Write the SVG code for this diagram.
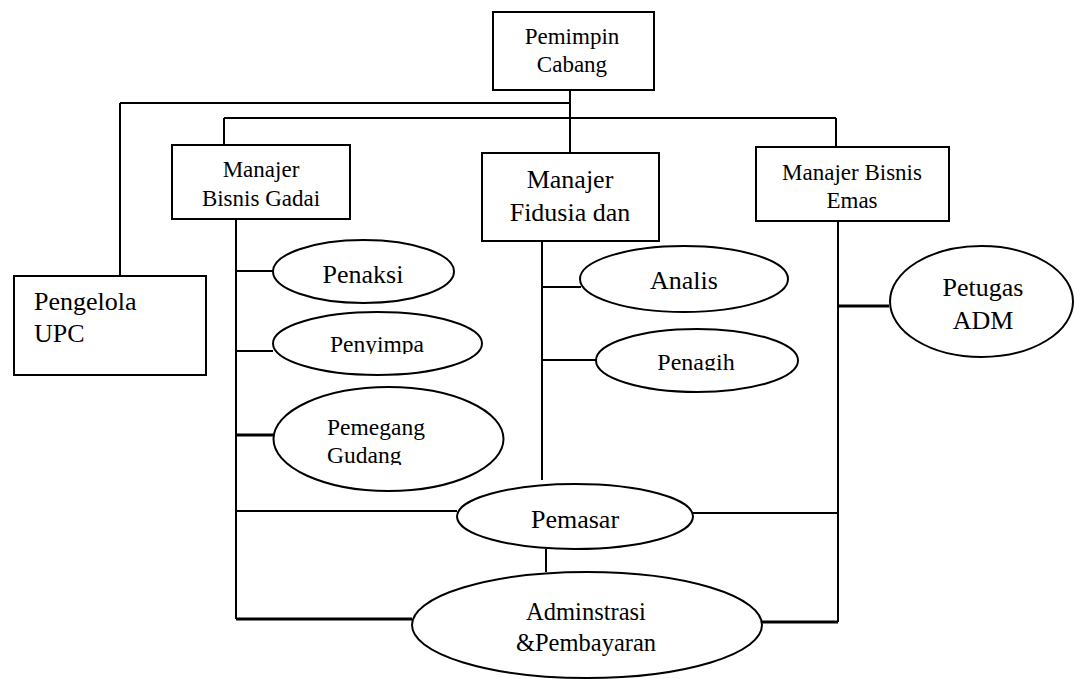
<svg xmlns="http://www.w3.org/2000/svg" width="1074" height="679" viewBox="0 0 1074 679">
<style>
.box{fill:#fff;stroke:#000;stroke-width:2}
.ell{fill:#fff;stroke:#000;stroke-width:2}
.ln{stroke:#000;stroke-width:2;fill:none}
.thick{stroke-width:3}
.c{text-anchor:middle}
</style>
<defs>
<clipPath id="clipPenyimpa"><rect x="260" y="300" width="240" height="54"/></clipPath>
<clipPath id="clipPenagih"><rect x="590" y="320" width="220" height="50.5"/></clipPath>
<clipPath id="clipGudang"><rect x="260" y="380" width="260" height="85"/></clipPath>
</defs>
<rect width="1074" height="679" fill="#fff"/>
<g id="connectors">
<path class="ln" d="M570,90 V153"/>
<path class="ln" d="M120,103 H570 M120,103 V276"/>
<path class="ln" d="M224,118 H836 M224,118 V145 M836,118 V147"/>
<path class="ln" d="M236,219 V619"/>
<path class="ln" d="M236,271 H273"/>
<path class="ln" d="M236,351 H273"/>
<path class="ln thick" d="M236,435 H273"/>
<path class="ln" d="M236,511 H457"/>
<path class="ln thick" d="M236,619 H412"/>
<path class="ln" d="M542,241 V480"/>
<path class="ln" d="M542,287 H581"/>
<path class="ln" d="M542,360 H597"/>
<path class="ln" d="M838,221 V622"/>
<path class="ln thick" d="M838,306 H889"/>
<path class="ln" d="M693,513 H838"/>
<path class="ln thick" d="M762,622 H838"/>
<path class="ln" d="M546,549 V572"/>
</g>
<g id="nodes" font-family="'Liberation Serif', 'Times New Roman', 'DejaVu Serif', serif" fill="#000">
<g id="pemimpin">
<rect class="box" x="493" y="12" width="161" height="78"/>
<text class="c" x="572" y="44" font-size="23">Pemimpin</text>
<text class="c" x="572" y="72" font-size="23">Cabang</text>
</g>
<g id="manajer-gadai">
<rect class="box" x="172" y="145" width="178" height="74"/>
<text class="c" x="261" y="177" font-size="23">Manajer</text>
<text class="c" x="261" y="206" font-size="23">Bisnis Gadai</text>
</g>
<g id="manajer-fidusia">
<rect class="box" x="482" y="153" width="177" height="88"/>
<text class="c" x="570" y="188" font-size="26">Manajer</text>
<text class="c" x="570" y="221" font-size="26">Fidusia dan</text>
</g>
<g id="manajer-emas">
<rect class="box" x="756" y="147" width="193" height="74"/>
<text class="c" x="852" y="180" font-size="23">Manajer Bisnis</text>
<text class="c" x="852" y="208" font-size="23">Emas</text>
</g>
<g id="pengelola">
<rect class="box" x="14" y="276" width="192" height="99"/>
<text x="34" y="310" font-size="26">Pengelola</text>
<text x="34" y="342" font-size="26">UPC</text>
</g>
<g id="penaksi">
<ellipse class="ell" cx="363.5" cy="271.5" rx="90.5" ry="31.5"/>
<text class="c" x="363" y="283" font-size="26">Penaksi</text>
</g>
<g id="penyimpa">
<ellipse class="ell" cx="377.5" cy="343.5" rx="104.5" ry="31.5"/>
<text class="c" x="377" y="352" font-size="23.5" clip-path="url(#clipPenyimpa)">Penyimpa</text>
</g>
<g id="pemegang">
<ellipse class="ell" cx="388.5" cy="439" rx="115" ry="52"/>
<g clip-path="url(#clipGudang)">
<text x="327" y="435" font-size="23.5">Pemegang</text>
<text x="327" y="463" font-size="23.5">Gudang</text>
</g>
</g>
<g id="analis">
<ellipse class="ell" cx="684" cy="279" rx="104" ry="33"/>
<text class="c" x="684" y="289" font-size="26">Analis</text>
</g>
<g id="penagih">
<ellipse class="ell" cx="697" cy="360.5" rx="101" ry="31.5"/>
<text class="c" x="696" y="370" font-size="24" clip-path="url(#clipPenagih)">Penagih</text>
</g>
<g id="petugas">
<ellipse class="ell" cx="981.5" cy="301.5" rx="91.5" ry="55.5"/>
<text class="c" x="983" y="296" font-size="26">Petugas</text>
<text class="c" x="983" y="329" font-size="26">ADM</text>
</g>
<g id="pemasar">
<ellipse class="ell" cx="575" cy="516.5" rx="118" ry="32.5"/>
<text class="c" x="575" y="528" font-size="26">Pemasar</text>
</g>
<g id="administrasi">
<ellipse class="ell" cx="587" cy="625" rx="175" ry="53"/>
<text class="c" x="586" y="620" font-size="24.5">Adminstrasi</text>
<text class="c" x="586" y="651" font-size="24.5">&amp;Pembayaran</text>
</g>
</g>
</svg>
